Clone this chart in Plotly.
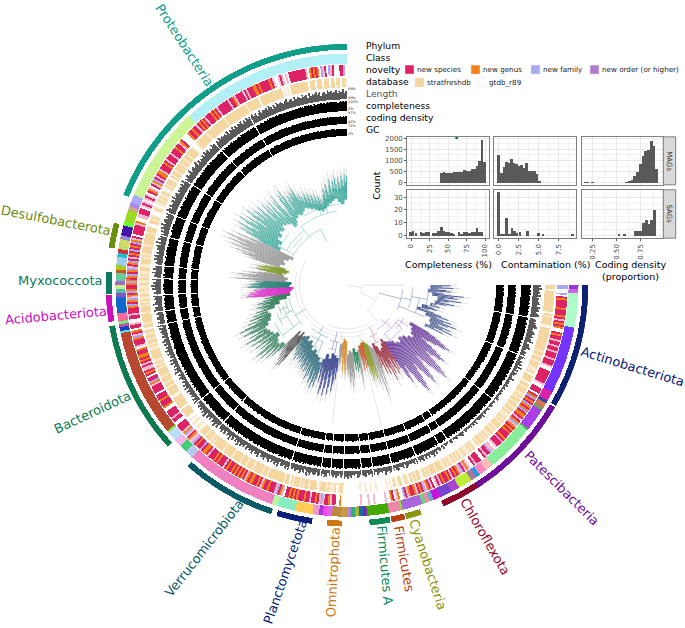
import plotly.graph_objects as go

W, H = 685, 628
CX, CY, RMAX = 347, 285, 243
BIN = 0.5  # degrees per character in the ring strings, starting at 90

# phylum ring
PHYLA = ['Actinobacteriota', 'Patescibacteria', 'Chloroflexota', 'Cyanobacteria', 'Firmicutes', 'Firmicutes A',
         'Omnitrophota', 'Planctomycetota', 'Verrucomicrobiota', 'Bacteroidota', 'Acidobacteriota', 'Myxococcota',
         'Desulfobacterota', 'Proteobacteria']
PHYLUM_START = [90, 120.4, 147, 162, 166, 169.6, 181.2, 188.4, 198.3, 228, 261.2, 267.8, 279, 292]
PHYLUM_END = [120, 147, 156.4, 165.8, 169.3, 174.6, 184.8, 197, 221.4, 260.2, 267.6, 273.2, 285, 360]
PHYLUM_COLORS = ['#0E2070', '#6E0E9A', '#8E0A2A', '#8A9410', '#B84010', '#0E8A55', '#CC7711', '#0A1F7A', '#0A5A66',
                 '#0E7A4F', '#CC11BB', '#0B7A62', '#6B8E10', '#0F9E8A']

# class ring
CLASS_START = [90, 91, 92, 100.6, 117.5, 120, 120.7, 122.2, 122.8, 128.4, 128.8, 141, 143, 145, 146, 147.5, 151, 153.2,
               156, 158, 159, 160, 161, 166, 166.5, 169.5, 175, 176, 177, 178, 179, 180, 181.4, 183.7, 185, 186, 187,
               188.5, 193, 197.5, 199, 222, 224, 226, 228, 230.5, 231, 258, 258.5, 259.5, 260.2, 261, 263, 267, 268,
               269, 270, 271, 273, 273.8, 275, 277, 278, 279, 281.5, 282.5, 285, 285.8, 289, 290, 291, 293, 317]
CLASS_COLORS = ['#9933DD', '#CC66DD', '#AFFCCB', '#7733FF', '#DD22AA', '#3344AA', '#CC7755', '#55AA66', '#A83FE8',
                '#55AA66', '#88EE99', '#FFBBBB', '#FF88BB', '#2299EE', '#AA7799', '#BBEE33', '#AA44CC', '#7744CC',
                '#CC11DD', '#66AACC', '#EE88AA', '#77CC88', '#AA66DD', '#88DD33', '#EE88AA', '#44AA00', '#6633AA',
                '#2266AA', '#99BB33', '#33AA77', '#AA88DD', '#CC9944', '#BB8844', '#DD66EE', '#FF44EE', '#AA33DD',
                '#EE99CC', '#FFCC55', '#88EEC0', '#BBF5A0', '#F080C0', '#B8C8F0', '#44CC77', '#F0B8E8', '#BBDDFF',
                '#88DD33', '#B84830', '#66DDDD', '#1144CC', '#BB5599', '#88DD88', '#FF6699', '#1166CC', '#8855BB',
                '#55BBAA', '#CCEE88', '#AA66CC', '#66CC99', '#CC5522', '#AACC22', '#99CCEE', '#22BBCC', '#CC3344',
                '#CCDD66', '#9988DD', '#4411AA', '#66FF44', '#99DD22', '#CCAA88', '#AA88EE', '#AAAAFF', '#CCF595',
                '#B2F0F5']

# novelty per bin: s species, g genus, f family, o order, p pale species stripe, w none
NOVELTY = ('ffwwfwsgss' 'ssgsssgsps' 'gsgwwsgssp' 'sspsspsssp' 'ssspwwssss' 'ssspwwsssw'
           'sgfsgsfgsg' 'fsggspsgfp' 'gsgsgsssgs' 'pssspwppfs' 'spswwsssps' 'wwpgpsfpgs'
           'gspsgssgsp' 'spwspsgpfs' 'gspgssgpsf' 'wwgpwsgwwp' 'wwwwwpwwpw' 'wwpwwwwwww'
           'wwwgwwsspg' 'sspfpsgssp' 'ssgsssgsgs' 'gsswpgsfps' 'ssgssgpsgs' 'sggsgpsgsg'
           'sgsgssgsps' 'ssgsgsssps' 'ggsfssgsfp' 'pgspfgpsss' 'swwsspssss' 'wwgsssgsss'
           'wsssspgfss' 'wsgsppspsg' 'sggssgwpss' 'sgfpsgwssp' 'wwsspsssgf' 'sgfpgsfgss'
           'gfgsgfsgfp' 'sgfspsgsfs' 'gsfgpswsss' 'sspgwwppss' 'swpspwpspw' 'sgpwspgfsp'
           'sggpsssgsp' 'ssspsssgss' 'pgswwwwgss' 'gsspsgsgsp' 'sssgsgspss' 'sssspssgps'
           'ssspspsssg' 'gsgsssssgs' 'pwwpspwpws' 'sssssssspw' 'gsgsgwfpsw' 'fpswwwssfw')
NOVELTY_COLORS = {'s': '#DD2266', 'g': '#F57F17', 'f': '#A8A8F5', 'o': '#B07CCB', 'p': '#F5B8CF'}

# database per bin: t stratfreshdb, l stratfreshdb with a thin gap, . gtdb_r89
DATABASE = ('tt.ttttttt' 'ttttt.tltt' 'ttl.tttttt' 'tttttttltt' 'lttltttlll' 't.tttt.ttl'
            'tttlltlttl' 'ttlttltlll' 'tltltttltl' 'ttlltltltt' 'lt.ltltlll' 'tlltltltll'
            'tltlltttlt' 'ttltltl.tt' 'ltlt.ltl.t' 't.lt.l.l..' '...l..l..l' '..l.......'
            '..ttl.tlll' 'tltttl.ttt' 'tlttltlttt' 'lt.ttltttt' 'tttttlttlt' 'ttttltttlt'
            'ttlttttltt' 'tttltttttt' 'ltltttlttt' 'l.ll.ll.l.' '.ttttt.ttt' 'tttt.ltttt'
            'lttltttltt' 'ttltltlltt' 'tttlltlttl' 'ttltt.ttlt' 'ttttltttlt' 'ltlltlltll'
            'tlltltlltt' 'lltttltltt' 'ttlttttttl' 'ttt..ttltl' '..ltl.lltl' 'tlltl.ltlt'
            'tt.tlttltt' 'ttlttlttlt' 'tttl..lttt' 'ttttlttttt' 'tttttttltt' 'tttttttttt'
            'tlttttttt.' 'tttttttttt' 'ttt.l.l.tt' 'tttttttt.t' 'tt.ttt.ttt' '.tt.tt.ttl')
DATABASE_COLORS = {'t': '#F5D7A1', 'l': '#FAE9CC'}

# the four bar rings, one digit (0-9) per bin
LENGTH = ('7686758465' '6758675784' '5646785468' '5746835674' '3545643546' '3735254236'
          '2332423132' '3223413223' '2132231423' '3214231322' '2312432132' '2143223142'
          '3425364253' '5264536253' '4356254365' '3546457354' '4635745365' '5467354657'
          '5746357464' '5367465736' '6475836475' '5746385746' '6385746475' '4756385647'
          '5647365748' '4637485637' '4756374856' '3647385746' '4635746354' '5463746352'
          '4635274635' '3746253647' '4536475364' '5647385647' '6475867486' '5768475869'
          '6758476958' '5647586947' '5768495867' '6475869578' '5768697586' '6859678576'
          '7685967586' '6957867958' '5768697857' '6978586978' '7869587968' '6879586978'
          '7968579687' '8697586978' '7689678596' '8769785968' '7968578697' '8679687968')
COMPLETENESS = ('9979897989' '8979979897' '9978979889' '8989979798' '8979887979' '8897989879'
                '8987897798' '9787978979' '8797897987' '9879779897' '8797989787' '9798797897'
                '8979878979' '7898979789' '8979787989' '7978987897' '9879789879' '8797989878'
                '9787989798' '8979879897' '9789878979' '8797989879' '7989787989' '8979878797'
                '9878979897' '8797987989' '7989879798' '9878979879' '8797989787' '9798979878'
                '8979787989' '7897989879' '9878798979' '8797989878' '9789879897' '8979787989'
                '9878979789' '8979878979' '7989797898' '9878979897' '8797989878' '9789879798'
                '8979878979' '9878797989' '8979898787' '9798979878' '8979878979' '9878979897'
                '8979879898' '9898979889' '8989798989' '9879898979' '8989897989' '9898798989')
CODING = ('9899898989' '8998989899' '9889899898' '8989989889' '9898899898' '8998989898'
          '8989889989' '9898988989' '8989989898' '9889898989' '8998989889' '9898989898'
          '8989899889' '9898989989' '8899898989' '9989889898' '8989989898' '9898898989'
          '8998989889' '9889898998' '8989899898' '9898989889' '8989989898' '9898898999'
          '8989989889' '9898899898' '8989989898' '9889898989' '8998989889' '9898989898'
          '8989899889' '9898989989' '8899898989' '9989889898' '8989989898' '9898898989'
          '8998989889' '9889898998' '8989899898' '9898989889' '8989989898' '9898898999'
          '8989989889' '9898899898' '8989989898' '9889898989' '8998989889' '9898989898'
          '8989899889' '9898989989' '8899898989' '9989889898' '8989989898' '9898898989')
GC = ('9899899989' '9898999899' '8998989898' '8989889798' '8798978889' '7888978787'
      '6757665756' '5665756656' '6756657566' '5766567565' '6575665756' '7667576767'
      '7878797878' '8797878797' '7867787678' '7686778767' '7868778687' '7867687768'
      '7768678767' '7678767868' '7768778687' '7867787876' '7787678778' '6787768778'
      '7687778678' '7678767687' '6776867767' '7686776867' '6786778676' '7678676767'
      '6767867676' '7676767867' '6767676786' '7686767876' '7868787878' '7878788787'
      '8787878787' '7878987878' '8787887878' '7898787887' '8787898788' '8878987887'
      '8788978888' '7888987888' '8878888987' '8887888978' '8878887988' '8788878887'
      '7887888878' '8878887788' '7888788878' '8788788887' '8877888788' '8788878878')
# white radial separators running through the four bar rings
RING_GAPS = [100, 112, 128, 147, 150, 158, 166, 172, 175.5, 181, 185, 188, 197.5, 222, 232, 258, 262, 267, 272, 276,
             285, 292, 303, 317, 330]
AXIS_LABELS = ['6Mb', '0Mb', '100%', '0%', '97%', '40%', '75%', '0%']
AXIS_LABEL_Y = [88, 97, 101, 108, 112, 121, 125, 133]

# tree: one fan of tips per clade
CLADE_START = [90, 120, 147, 157, 161, 165, 169.5, 171, 175, 180, 184.5, 186.5, 198, 220, 226, 262, 268, 273, 279, 285, 297]
CLADE_END = [118, 147, 157, 161, 165, 169.5, 171, 175, 180, 184.5, 186.5, 198, 220, 226, 262, 268, 273, 279, 285, 297, 360]
CLADE_COLORS = ['#1F3478', '#4A1486', '#8E1428', '#8F8F8F', '#7E8E12', '#C04A14', '#8F8F8F', '#14804F', '#8A8A8A',
                '#D08420', '#8F8F8F', '#1F2E80', '#155A6B', '#3A3A3A', '#136B42', '#D41FC4', '#14756A', '#8A8A8A',
                '#728F14', '#8A8A8A', '#1F9A8C']
CLADE_TIPS = [
    [104, 96, 107, 92, 100, 105, 90, 98, 118, 108, 112, 100, 116, 104, 96, 110, 102, 92, 88, 96, 84, 90, 94, 86, 78, 92,
     100, 108, 96, 112, 104, 118, 110, 100, 114, 106, 117, 98, 108, 90],
    [96, 104, 110, 116, 122, 118, 108, 100, 92, 98, 106, 112, 118, 124, 120, 112, 104, 110, 118, 126, 132, 136, 128, 118,
     108, 100, 110, 120, 128, 132, 124, 114, 104, 110, 120, 128, 134, 130, 122, 110, 100, 108, 118, 112, 100],
    [92, 100, 88, 104, 96, 84, 102, 90, 108, 94, 86, 100, 92, 80, 98, 88, 76, 90],
    [95, 108, 90, 118, 100, 85, 105],
    [92, 99, 86, 96, 90, 100, 84, 94],
    [84, 78, 86, 74, 82, 88, 76, 72],
    [90, 100, 85],
    [84, 76, 88, 80, 72, 86, 78, 70],
    [95, 88, 102, 85, 92, 98, 84, 90, 80, 86],
    [70, 85, 89, 80, 74, 88, 78, 66],
    [72, 80, 76, 68],
    [88, 96, 84, 100, 108, 92, 86, 104, 112, 95, 88, 106, 114, 98, 90, 108, 113, 96, 86, 102, 92, 84],
    [100, 108, 96, 104, 110, 92, 102, 106, 98, 88, 100, 94, 104, 86, 96, 90, 98, 84, 92, 96, 88, 94, 82, 90, 86, 92, 80,
     88, 84, 90, 78, 86, 92, 80, 88, 76, 84, 82, 74, 80],
    [100, 106, 96, 108, 92, 102, 90, 98, 88, 94, 84, 90],
    [96, 104, 92, 110, 100, 96, 114, 106, 98, 112, 116, 104, 94, 108, 100, 96, 112, 104, 90, 106, 114, 100, 94, 110, 118,
     106, 96, 112, 102, 92, 108, 116, 110, 98, 104, 118, 112, 100, 94, 108, 96, 90, 104, 98, 86, 100, 92, 84, 96, 88, 82,
     90, 86, 94, 80, 88, 84, 92, 78, 86, 80, 76, 84, 78, 74],
    [88, 96, 102, 94, 100, 90, 98, 92, 86, 94, 88, 82],
    [92, 100, 96, 88, 98, 94, 90, 86, 92, 84],
    [95, 112, 100, 88, 106, 96, 110, 92, 86, 100, 90, 84],
    [72, 82, 90, 93, 86, 80, 92, 88, 78, 85, 74, 70],
    [90, 100, 96, 110, 104, 118, 98, 112, 124, 106, 116, 128, 110, 120, 131, 112, 100, 122, 108, 96],
    [100, 114, 122, 108, 118, 126, 112, 104, 120, 128, 116, 108, 122, 112, 100, 118, 126, 114, 106, 120, 116, 104, 112,
     120, 108, 96, 110, 118, 104, 114, 96, 108, 116, 100, 92, 112, 106, 118, 100, 88, 96, 110, 114, 104, 118, 110, 92,
     104, 108, 100, 106, 110, 104, 108, 112, 102, 98, 104, 96, 100, 94, 98, 102, 92, 96, 100, 90, 94, 98, 88, 92, 96, 86,
     90, 94, 86, 90, 84, 88, 92, 94, 100, 90, 98, 104, 96, 92, 102, 108, 94, 100, 106, 98, 110, 102, 96, 108, 104, 98,
     110, 106, 100, 112, 104, 110],
]
CLADE_BASES = [
    [84, 82, 86, 92, 90, 86, 78, 74, 84, 90, 92, 88],
    [74, 78, 80, 84, 80, 76, 74, 78, 76, 72, 70, 68],
    [64, 68, 72, 74, 68, 64],
    [68, 66, 64],
    [62, 60, 58],
    [60, 62],
    [66],
    [68, 64],
    [68, 66, 70],
    [56, 54, 58],
    [60],
    [74, 72, 70, 76, 72, 78],
    [82, 78, 76, 72, 74, 70, 66, 68, 64, 66],
    [68, 64, 70, 66],
    [86, 90, 88, 84, 88, 90, 92, 88, 84, 82, 84, 76, 70, 62, 58],
    [58, 56, 54],
    [58, 56],
    [62, 60, 64],
    [66, 62, 60, 64],
    [70, 66, 68, 64, 60],
    [76, 80, 78, 84, 82, 86, 84, 88, 86, 84, 78, 80, 84, 86, 84, 86, 88, 86, 84, 82, 80, 78, 80, 82, 84, 86, 88, 84, 82, 86],
]
TIP_FADE = 7  # the pale grey ends that run past each coloured tip
# deep branches: arcs are (radius, from, to), stems are (angle, from, to)
BRANCH_COLORS = ['#DADADA', '#7FCFC4', '#7FBFA4', '#7FAEB8', '#8D97CA', '#D5858F', '#BC94DE', '#8C9ED0']
BRANCH_ARCS = [
    [(15, 95, 120), (33, 110, 145), (48, 145, 300), (52, 160, 285), (44, 150, 205)],
    [(62, 297, 335), (70, 300, 322), (75, 322, 352), (82, 328, 358), (66, 305, 318), (88, 345, 360), (78, 300, 312)],
    [(60, 228, 258), (68, 232, 252), (76, 238, 248), (64, 245, 258), (82, 230, 242), (72, 246, 256)],
    [(56, 200, 220), (62, 203, 215), (70, 205, 212), (78, 198, 206)],
    [(58, 188, 197), (66, 190, 196), (72, 187, 193)],
    [(57, 148, 156), (65, 150, 155)],
    [(54, 128, 147), (62, 124, 144), (70, 128, 142), (66, 120, 132)],
    [(56, 94, 116), (66, 92, 110), (74, 100, 112), (82, 92, 106)],
]
BRANCH_STEMS = [
    [(100, 0, 15), (90, 15, 58), (118, 15, 33), (140, 33, 48), (186, 48, 140), (166.3, 52, 147)],
    [(335, 48, 62), (322, 62, 75), (345, 75, 88), (300, 62, 78), (340, 75, 82)],
    [(240, 48, 60), (245, 60, 68), (243, 68, 76), (232, 60, 82), (250, 64, 72)],
    [(210, 48, 56), (208, 56, 70), (203, 62, 78)],
    [(192, 48, 58), (193, 58, 66), (190, 58, 72)],
    [(152, 48, 57), (153, 57, 65)],
    [(135, 48, 54), (134, 54, 62), (128, 62, 70), (142, 62, 76), (124, 62, 74)],
    [(104, 33, 56), (103, 56, 66), (100, 66, 82), (112, 56, 84)],
]

# histograms
COMPLETENESS_BINS = [0, 3.4, 6.9, 10.3, 13.8, 17.2, 20.7, 24.1, 27.6, 31, 34.5, 37.9, 41.4, 44.8, 48.3, 51.7, 55.2, 58.6,
                     62, 65.5, 69, 72.4, 75.9, 79.3, 82.8, 86.2, 89.7, 93.1, 96.5]
COMPLETENESS_SAGS = [3, 4, 2, 0, 3, 2, 3, 3, 0, 2, 2, 4, 7, 4, 3, 3, 2, 1, 0, 3, 1, 3, 3, 2, 3, 3, 6, 3, 3]
COMPLETENESS_MAG_BINS = [41.4, 44.8, 48.3, 51.7, 55.2, 58.6, 62, 65.5, 69, 72.4, 75.9, 79.3, 82.8, 86.2, 89.7, 93.1, 96.5, 100]
COMPLETENESS_MAGS = [440, 480, 460, 445, 450, 490, 470, 480, 490, 560, 510, 550, 600, 640, 780, 1000, 1950, 950]
CONTAMINATION_MAG_BINS = [0, 0.32, 0.64, 0.96, 1.28, 1.6, 1.92, 2.24, 2.56, 2.88, 3.2, 3.52, 3.84, 4.16, 4.48, 4.8, 5.12]
CONTAMINATION_MAGS = [1250, 430, 700, 950, 900, 1060, 880, 850, 780, 820, 680, 900, 540, 520, 540, 400, 90]
CONTAMINATION_SAG_BINS = [0, 0.33, 0.66, 1, 1.33, 1.66, 2, 2.33, 2.66, 3.6, 5, 5.6, 9.3]
CONTAMINATION_SAGS = [34, 1, 1, 14, 1, 6, 4, 2, 3, 4, 2, 1, 1]
CODING_MAG_BINS = [0.17, 0.2, 0.25, 0.6, 0.628, 0.656, 0.684, 0.712, 0.74, 0.768, 0.796, 0.824, 0.852, 0.88, 0.908]
CODING_MAGS = [10, 15, 10, 20, 50, 130, 300, 480, 850, 1200, 1420, 1500, 1900, 1650, 600]
CODING_SAG_BINS = [0.52, 0.58, 0.69, 0.718, 0.746, 0.774, 0.802, 0.83, 0.858, 0.886]
CODING_SAGS = [1, 1, 4, 4, 4, 10, 12, 9, 12, 20]

PANEL_X = [(407.3, 489), (494.3, 576), (581.7, 663.3)]
PANEL_Y = [(135.7, 184), (189, 237.7)]
FONT = 'DejaVu Sans'


def px(x):
    return x / W


def py(y):
    return 1 - y / H


def add_text(fig, text, x, y, size=11, color='black', angle=0, xanchor='left', font=FONT):
    fig.add_annotation(text=text, x=px(x), y=py(y), xref='paper', yref='paper', showarrow=False, textangle=angle,
                       xanchor=xanchor, yanchor='middle', borderpad=0, borderwidth=0,
                       font=dict(family=font, size=size, color=color))


def add_ring(fig, starts, ends, colors, inner, outer):
    fig.add_trace(go.Barpolar(theta=[(a + b) / 2 for a, b in zip(starts, ends)], width=[b - a for a, b in zip(starts, ends)],
                              r=[outer - inner] * len(starts), base=[inner] * len(starts),
                              marker=dict(color=colors, line=dict(width=0)), hoverinfo='skip'))


def add_coded_ring(fig, codes, palette, inner, outer):
    # merge neighbouring bins of one code so no seams show
    starts, ends, colors = [], [], []
    for i, c in enumerate(codes):
        if c not in palette:
            continue
        a = 90 + i * BIN
        if colors and colors[-1] == palette[c] and ends[-1] == a:
            ends[-1] = a + BIN
        else:
            starts.append(a)
            ends.append(a + BIN)
            colors.append(palette[c])
    add_ring(fig, starts, ends, colors, inner, outer)


def add_bar_ring(fig, digits, color, inner, outer, floor=0.0):
    # floor keeps the solid part of a ring, so one digit moves the edge by less
    values = [int(c) for c in digits]
    n = len(values)
    fig.add_trace(go.Barpolar(theta=[90 + (i + 0.5) * BIN for i in range(n)], width=[BIN * 1.08] * n,
                              r=[(floor + (1 - floor) * v / 9) * (outer - inner) for v in values], base=[inner] * n,
                              marker=dict(color=color, line=dict(width=0)), hoverinfo='skip'))


def add_lines(fig, thetas, radii, color, width):
    fig.add_trace(go.Scatterpolar(theta=thetas, r=radii, mode='lines', line=dict(color=color, width=width),
                                  hoverinfo='skip'))


fig = go.Figure()

add_ring(fig, PHYLUM_START, PHYLUM_END, PHYLUM_COLORS, 237, 243)
add_ring(fig, CLASS_START, CLASS_START[1:] + [360], CLASS_COLORS, 223, 233)
add_coded_ring(fig, NOVELTY, NOVELTY_COLORS, 211, 222)
add_coded_ring(fig, DATABASE, DATABASE_COLORS, 199, 209)
add_bar_ring(fig, LENGTH, '#5A5A5A', 187, 197)
add_bar_ring(fig, COMPLETENESS, 'black', 175, 185, floor=0.45)
add_bar_ring(fig, CODING, 'black', 162, 170, floor=0.45)
add_bar_ring(fig, GC, 'black', 150, 158, floor=0.45)
add_ring(fig, [a - 0.17 for a in RING_GAPS], [a + 0.17 for a in RING_GAPS], ['white'] * len(RING_GAPS), 150, 198)

# deep branches of the tree
for color, arcs, stems in zip(BRANCH_COLORS, BRANCH_ARCS, BRANCH_STEMS):
    thetas, radii = [], []
    for r, a, b in arcs:
        n = int(b - a) + 2
        thetas += [a + (b - a) * i / (n - 1) for i in range(n)] + [None]
        radii += [r] * n + [None]
    for a, r0, r1 in stems:
        thetas += [a, a, None]
        radii += [r0, r1, None]
    add_lines(fig, thetas, radii, color, 0.7)

# fans of tips, pale ends first
for start, end, color, tips, bases in zip(CLADE_START, CLADE_END, CLADE_COLORS, CLADE_TIPS, CLADE_BASES):
    thetas, radii, fade_r = [], [], []
    n = len(tips)
    for i, tip in enumerate(tips):
        a = start + (end - start) * (i + 0.5) / n
        thetas += [a, a, None]
        radii += [bases[i * len(bases) // n], tip, None]
        fade_r += [tip, tip + TIP_FADE, None]
    add_lines(fig, thetas, fade_r, '#C4C4C4', 0.6)
    add_lines(fig, thetas, radii, color, 0.8)

# histograms
panels = [
    (COMPLETENESS_MAG_BINS, COMPLETENESS_MAGS, 3.45, 0, 0),
    (CONTAMINATION_MAG_BINS, CONTAMINATION_MAGS, 0.32, 1, 0),
    (CODING_MAG_BINS, CODING_MAGS, 0.028, 2, 0),
    (COMPLETENESS_BINS, COMPLETENESS_SAGS, 3.45, 0, 1),
    (CONTAMINATION_SAG_BINS, CONTAMINATION_SAGS, 0.32, 1, 1),
    (CODING_SAG_BINS, CODING_SAGS, 0.028, 2, 1),
]
X_RANGES = [(-5, 105.4), (-0.59, 9.7), (0.14, 0.98)]
X_TICKS = [([0, 25, 50, 75, 100], ['0', '25', '50', '75', '100']),
           ([0, 2.5, 5, 7.5], ['0.0', '2.5', '5.0', '7.5']),
           ([0.25, 0.5, 0.75], ['0.25', '0.50', '0.75'])]
X_MINOR = [[12.5, 37.5, 62.5, 87.5], [1.25, 3.75, 6.25, 8.75], [0.375, 0.625, 0.875]]
Y_RANGES = [(-105, 2075), (-2, 35.7)]
Y_TICKS = [[0, 500, 1000, 1500, 2000], [0, 10, 20, 30]]
Y_MINOR = [[250, 750, 1250, 1750], [5, 15, 25, 35]]
for k, (bins, counts, width, col, row) in enumerate(panels):
    name = '' if k == 0 else str(k + 1)
    fig.add_trace(go.Bar(x=bins, y=counts, width=width, marker=dict(color='#595959', line=dict(width=0)),
                         xaxis='x' + name, yaxis='y' + name, hoverinfo='skip'))
    axis = dict(showline=True, mirror=True, linecolor='#7F7F7F', linewidth=1.2, gridcolor='#E8E8E8', gridwidth=0.7,
                zeroline=False, ticklen=2, tickcolor='#555555', tickfont=dict(family=FONT, size=7, color='#4D4D4D'))
    tickvals, ticktext = X_TICKS[col]
    fig.update_layout({
        'xaxis' + name: dict(axis, anchor='y' + name, domain=[px(PANEL_X[col][0]), px(PANEL_X[col][1])],
                             range=list(X_RANGES[col]), tickmode='array', tickvals=tickvals, ticktext=ticktext,
                             showticklabels=row == 1, ticks='outside' if row == 1 else '', tickangle=-90,
                             minor=dict(tickmode='array', tickvals=X_MINOR[col], showgrid=True, gridcolor='#F2F2F2',
                                        gridwidth=0.5, ticks='')),
        'yaxis' + name: dict(axis, anchor='x' + name, domain=[py(PANEL_Y[row][1]), py(PANEL_Y[row][0])],
                             range=list(Y_RANGES[row]), tickmode='array', tickvals=Y_TICKS[row],
                             showticklabels=col == 0, ticks='outside' if col == 0 else '',
                             minor=dict(tickmode='array', tickvals=Y_MINOR[row], showgrid=True, gridcolor='#F2F2F2',
                                        gridwidth=0.5, ticks='')),
    })
fig.add_trace(go.Scatter(x=[61.7], y=[2030], mode='markers', marker=dict(color='#0A7A5A', size=3), hoverinfo='skip',
                         cliponaxis=False))

shapes = []
for (y0, y1), strip in zip(PANEL_Y, ['MAGs', 'SAGs']):
    shapes.append(dict(type='rect', xref='paper', yref='paper', x0=px(663.3), x1=px(675.7), y0=py(y1), y1=py(y0),
                       fillcolor='#D9D9D9', line=dict(color='#7F7F7F', width=1)))
    add_text(fig, strip, 669.5, (y0 + y1) / 2, size=7, color='#333333', angle=90, xanchor='center')

# legend block
LEGEND_ROWS = ['Phylum', 'Class', 'novelty', 'database', 'Length', 'completeness', 'coding density', 'GC']
LEGEND_Y = [44, 56, 68, 80, 92, 104, 116, 128]
for text, y in zip(LEGEND_ROWS, LEGEND_Y):
    add_text(fig, text, 366, y, size=9.2, color='#555555' if text == 'Length' else 'black')
KEY_LABELS = ['new species', 'new genus', 'new family', 'new order (or higher)', 'stratfreshdb', 'gtdb_r89']
KEY_COLORS = ['#DD2266', '#F57F17', '#A8A8F5', '#B07CCB', '#F5D7A1', 'white']
KEY_X = [405, 471, 531, 590, 415, 477]
KEY_Y = [68, 68, 68, 68, 81, 81]
for text, color, x, y in zip(KEY_LABELS, KEY_COLORS, KEY_X, KEY_Y):
    shapes.append(dict(type='rect', xref='paper', yref='paper', x0=px(x), x1=px(x + 9), y0=py(y + 4.5), y1=py(y - 4.5),
                       fillcolor=color, line=dict(color='#E5E5E5', width=0.5)))
    add_text(fig, text, x + 12, y, size=7.2, color='#222222')

for text, y in zip(AXIS_LABELS, AXIS_LABEL_Y):
    add_text(fig, text, 348, y, size=3.5, color='#333333')

# phylum names
LABEL_X = [632, 561, 485, 428, 404, 385, 333, 285, 204, 92, 56, 60, 56, 184]
LABEL_Y = [367, 489, 538, 566, 560, 567, 574, 574, 550, 413, 316, 280, 220, 43]
LABEL_ANGLE = [17, 45, 60, 72, 80, 85, -87, -71, -52, -25, -5, 0, 11, 57]
for name, color, x, y, angle in zip(PHYLA, PHYLUM_COLORS, LABEL_X, LABEL_Y, LABEL_ANGLE):
    add_text(fig, name, x, y, size=13, color=color, angle=angle, xanchor='center')

# inset axis titles
add_text(fig, 'Count', 377, 185, size=9.5, angle=-90, xanchor='center')
add_text(fig, 'Completeness (%)', 448, 264, size=9.5, xanchor='center')
add_text(fig, 'Contamination (%)', 545, 264, size=9.5, xanchor='center')
add_text(fig, 'Coding density', 630, 264, size=9.5, xanchor='center')
add_text(fig, '(proportion)', 630, 276, size=9.5, xanchor='center')

fig.update_layout(
    width=W, height=H, autosize=False, showlegend=False, margin=dict(l=0, r=0, t=0, b=0),
    paper_bgcolor='white', plot_bgcolor='white', bargap=0, shapes=shapes,
    polar=dict(
        domain=dict(x=[px(CX - RMAX), px(CX + RMAX)], y=[py(CY + RMAX), py(CY - RMAX)]),
        bgcolor='rgba(0,0,0,0)', barmode='overlay',
        radialaxis=dict(visible=False, range=[0, RMAX]),
        angularaxis=dict(visible=False, rotation=90, direction='clockwise'),
    ),
)

fig.write_html("out.html", config=dict(displayModeBar=False), post_script="document.body.style.margin='0';")
